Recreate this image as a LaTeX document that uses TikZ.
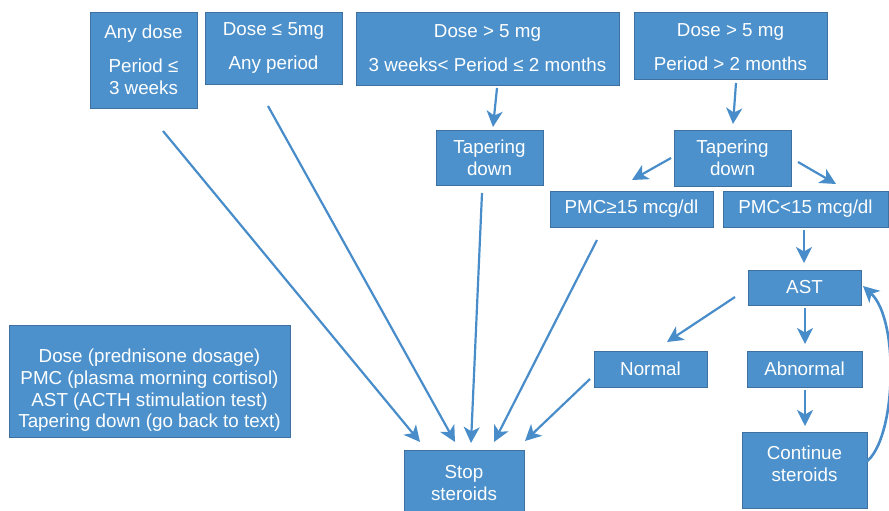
\documentclass[tikz,border=0pt]{standalone}
\usepackage{fontspec}
\setmainfont{Liberation Sans}
\usetikzlibrary{arrows.meta}
\definecolor{boxfill}{RGB}{76,145,203}
\definecolor{boxborder}{RGB}{62,112,160}
\definecolor{arrowcol}{RGB}{72,141,201}
\begin{document}
\begin{tikzpicture}[x=1pt,y=-1pt,
  box/.style={draw=boxborder, fill=boxfill, text=white, line width=0.9pt,
    inner sep=0pt, align=center, font=\fontsize{18.8}{22}\selectfont},
  txt/.style={text=white, inner sep=0pt, align=center, font=\fontsize{18.8}{22}\selectfont},
  arr/.style={draw=arrowcol, line width=2.2pt,
    -{Stealth[length=16pt,width=16pt,inset=4.5pt]}},
]
\useasboundingbox (0,0) rectangle (889,511);

% top boxes
\node[box, minimum width=107, minimum height=96] (anydose) at (143.5,60)
  {Any dose\\[12pt]Period ≤\\3 weeks};
\node[box, minimum width=137, minimum height=72] (lowdose) at (273.5,48)
  {Dose ≤ 5mg\\[12pt]Any period};
\node[box, minimum width=263, minimum height=73] (middose) at (487.5,48.5)
  {Dose > 5 mg\\[12pt]3 weeks< Period ≤ 2 months};
\node[box, minimum width=193, minimum height=67,
  label={[txt, yshift=-2pt]center:{Dose > 5 mg\\[12pt]Period > 2 months}}] (longdose) at (730.5,45.5) {};

% tapering
\node[box, minimum width=107, minimum height=55] (tapmid) at (489.5,157.5)
  {Tapering\\down};
\node[box, minimum width=117, minimum height=56] (tapright) at (732.5,158)
  {Tapering\\down};

% PMC
\node[box, minimum width=163, minimum height=36] (pmchigh) at (631.5,209)
  {PMC≥15 mcg/dl};
\node[box, minimum width=165, minimum height=36] (pmclow) at (805.5,209)
  {PMC<15 mcg/dl};

% AST and results
\node[box, minimum width=113, minimum height=35] (ast) at (804.5,287.5) {AST};
\node[box, minimum width=113, minimum height=36] (normal) at (650.5,369) {Normal};
\node[box, minimum width=115, minimum height=36] (abnormal) at (804.5,369) {Abnormal};
\node[box, minimum width=125, minimum height=76,
  label={[txt, yshift=6.5pt]center:{Continue\\steroids}}] (cont) at (804.5,470) {};

% stop
\node[box, minimum width=120, minimum height=66] (stop) at (464,483)
  {Stop\\steroids};

% legend
\node[box, minimum width=281, minimum height=112,
  label={[txt, yshift=-9.5pt, font=\fontsize{18.8}{21.7}\selectfont]center:{Dose (prednisone dosage)\\PMC (plasma morning cortisol)\\AST (ACTH stimulation test)\\Tapering down (go back to text)}}]
  (legend) at (149.5,381) {};

% arrow end points
\coordinate (s1) at (163,131);   \coordinate (e1) at (420,442);
\coordinate (s2) at (268,106);   \coordinate (e2) at (455,442);
\coordinate (s3) at (482,193);   \coordinate (e3) at (471,443);
\coordinate (s4) at (597,240);   \coordinate (e4) at (494,442);
\coordinate (s5) at (590,379);   \coordinate (e5) at (525,441);
\coordinate (s6) at (497,88);    \coordinate (e6) at (493,127);
\coordinate (s7) at (736,83);    \coordinate (e7) at (733,124);
\coordinate (s8) at (671,158);   \coordinate (e8) at (632,180);
\coordinate (s9) at (798,162);   \coordinate (e9) at (836,184);
\coordinate (s10) at (804,230);  \coordinate (e10) at (804,263);
\coordinate (s11) at (735,297);  \coordinate (e11) at (667,342);
\coordinate (s12) at (805,308);  \coordinate (e12) at (805,344);
\coordinate (s13) at (805,390);  \coordinate (e13) at (805,426);
\coordinate (s14) at (866,462);  \coordinate (e14) at (863,286);

\draw[arr] (s1) -- (e1);
\draw[arr] (s2) -- (e2);
\draw[arr] (s3) -- (e3);
\draw[arr] (s4) -- (e4);
\draw[arr] (s5) -- (e5);
\draw[arr] (s6) -- (e6);
\draw[arr] (s7) -- (e7);
\draw[arr] (s8) -- (e8);
\draw[arr] (s9) -- (e9);
\draw[arr] (s10) -- (e10);
\draw[arr] (s11) -- (e11);
\draw[arr] (s12) -- (e12);
\draw[arr] (s13) -- (e13);
\draw[arr, line width=2.6pt] (s14) .. controls (896,440) and (900,320) .. (e14);
\end{tikzpicture}
\end{document}
